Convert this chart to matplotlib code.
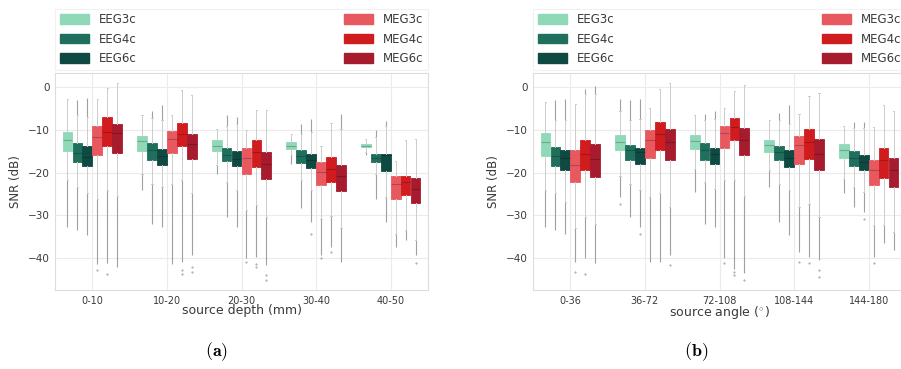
"""SNR box plots by source depth and source angle (EEG vs MEG head models)."""

import numpy as np
import matplotlib
matplotlib.use("Agg")
import matplotlib.pyplot as plt
from matplotlib.patches import Patch

nan = np.nan

HUES = ["EEG3c", "EEG4c", "EEG6c", "MEG3c", "MEG4c", "MEG6c"]
COLORS = ["#8fd8b8", "#1f6f5c", "#0e4a42", "#e8585f", "#d01c1f", "#a61b2e"]

DEPTH_LABELS = ["0-10", "10-20", "20-30", "30-40", "40-50"]
ANGLE_LABELS = ["0-36", "36-72", "72-108", "108-144", "144-180"]

# ---- panel (a): source depth; rows follow HUES, columns follow DEPTH_LABELS
depth_q3 = [
    [-10.5, -11.5, -12.3, -12.9, -13.4],
    [-13.2, -13.2, -14.2, -14.8, -15.6],
    [-13.9, -14.4, -15.0, -15.6, -15.6],
    [-9.0, -10.3, -14.3, -17.5, -20.9],
    [-7.1, -8.3, -12.5, -16.4, -20.7],
    [-8.6, -10.9, -15.2, -18.2, -21.3],
]
depth_q1 = [
    [-15.0, -14.9, -15.0, -14.6, -14.0],
    [-17.5, -17.1, -17.3, -17.8, -17.5],
    [-18.5, -18.2, -18.5, -18.9, -19.6],
    [-16.0, -15.4, -20.3, -23.0, -26.1],
    [-13.9, -13.9, -18.7, -22.1, -25.3],
    [-15.4, -16.8, -21.4, -24.3, -27.1],
]
depth_med = [
    [-12.5, -12.7, -13.9, -13.9, -13.7],
    [-15.4, -14.8, -16.0, -16.2, -16.5],
    [-16.4, -16.2, -16.8, -17.1, -16.0],
    [-11.7, -12.1, -16.5, -19.9, -22.6],
    [-10.4, -10.9, -15.2, -19.1, -22.2],
    [-10.8, -13.4, -17.9, -20.7, -23.8],
]
depth_whishi = [
    [-2.7, -6.6, -9.7, -10.9, -12.1],
    [-6.6, -7.2, -9.0, -10.9, -11.7],
    [-7.0, -7.8, -8.6, -10.5, -9.0],
    [-2.7, -6.5, -10.1, -13.9, -17.3],
    [-0.2, -0.6, -5.3, -8.3, -12.5],
    [1.0, -1.9, -5.3, -9.7, -12.1],
]
depth_whislo = [
    [-21.8, -20.3, -18.3, -16.0, -15.2],
    [-23.5, -22.6, -22.2, -21.8, -20.3],
    [-24.9, -23.5, -24.2, -24.2, -25.7],
    [-26.1, -22.6, -28.7, -30.8, -34.3],
    [-24.0, -21.8, -27.7, -30.2, -33.5],
    [-25.4, -24.9, -30.4, -33.1, -35.7],
]
depth_flier_top = [
    [nan, nan, nan, nan, nan],
    [-3.0, -5.6, -6.6, -8.6, -10.1],
    [-2.5, -4.3, -7.0, -7.4, -7.9],
    [nan, nan, nan, nan, nan],
    [nan, nan, nan, nan, nan],
    [nan, nan, nan, -6.2, nan],
]
depth_flier_bottom = [
    [-32.7, -24.0, -20.3, -17.9, -16.0],
    [-33.5, -32.0, -30.4, -28.4, -26.1],
    [-34.7, -32.7, -32.7, -31.6, -31.6],
    [-41.3, -41.3, -40.1, -39.4, -37.4],
    [-41.2, -40.9, -39.8, -37.4, -35.9],
    [-42.1, -39.4, -41.7, -40.9, -39.4],
]
depth_outliers = [
    [[], [], [], [], []],
    [[], [], [], [], []],
    [[], [], [], [-34.3], []],
    [[-42.9], [], [-40.9], [-40.1], []],
    [[-43.8], [-42.9, -43.8], [-41.3, -42.2], [-38.6], []],
    [[], [-42.1, -43.2], [-44.0, -45.2], [], [-41.2]],
]

# ---- panel (b): source angle; rows follow HUES, columns follow ANGLE_LABELS
angle_q3 = [
    [-10.7, -11.3, -11.3, -12.3, -13.4],
    [-14.0, -13.6, -13.1, -13.8, -15.0],
    [-14.8, -14.2, -14.2, -14.7, -16.0],
    [-14.8, -10.1, -9.1, -11.5, -17.0],
    [-12.5, -8.2, -7.2, -9.7, -14.2],
    [-13.4, -9.7, -9.6, -12.1, -16.5],
]
angle_q1 = [
    [-16.2, -14.8, -14.6, -15.2, -16.6],
    [-18.5, -17.1, -17.0, -17.1, -18.5],
    [-19.5, -18.1, -18.1, -18.6, -19.5],
    [-22.1, -16.5, -14.3, -18.1, -23.0],
    [-19.5, -14.8, -12.3, -16.8, -21.2],
    [-21.0, -17.1, -16.0, -19.3, -23.4],
]
angle_med = [
    [-12.9, -12.9, -12.6, -13.6, -14.8],
    [-16.2, -14.8, -14.8, -15.2, -16.6],
    [-16.5, -15.2, -15.6, -16.5, -17.5],
    [-18.3, -12.3, -10.7, -13.6, -19.5],
    [-15.6, -10.9, -9.4, -12.9, -17.1],
    [-16.8, -12.9, -12.5, -15.6, -19.5],
]
angle_whishi = [
    [-3.5, -5.5, -6.6, -7.8, -9.0],
    [-7.8, -7.8, -7.8, -7.8, -9.5],
    [-7.8, -7.4, -7.5, -8.6, -9.5],
    [-3.9, -4.8, -4.8, -6.2, -9.4],
    [-1.6, -0.4, -0.8, -2.2, -4.3],
    [-1.6, 0.9, 0.4, -1.4, -5.5],
]
angle_whislo = [
    [-24.0, -20.7, -19.1, -19.5, -21.4],
    [-24.9, -22.6, -22.2, -22.6, -23.4],
    [-26.9, -24.2, -23.8, -24.2, -24.6],
    [-33.1, -25.7, -21.8, -28.1, -32.3],
    [-30.4, -24.9, -21.8, -27.3, -32.2],
    [-32.1, -28.1, -25.6, -30.4, -33.9],
]
angle_flier_top = [
    [nan, -2.7, nan, nan, nan],
    [-3.1, -3.0, -6.2, -6.1, -8.2],
    [-2.7, -2.7, -5.5, -4.3, -8.2],
    [nan, nan, nan, nan, nan],
    [-0.4, nan, nan, nan, nan],
    [0.2, nan, nan, nan, nan],
]
angle_flier_bottom = [
    [-32.7, -25.7, -24.6, -23.4, -24.9],
    [-33.5, -30.4, -32.0, -31.6, -28.1],
    [-34.3, -32.7, -32.7, -34.7, -29.2],
    [-40.9, -40.9, -40.1, -38.6, -39.8],
    [-40.1, -40.9, -42.5, -39.8, -36.6],
    [-41.2, -39.4, -43.6, -40.5, -38.2],
]
angle_outliers = [
    [[], [-27.3], [], [], []],
    [[], [], [], [], []],
    [[], [-34.3], [], [], [-30.8]],
    [[-43.3], [], [-41.2], [-40.9], [-41.2]],
    [[-43.8], [], [-43.3, -44.0], [-41.2], []],
    [[], [-41.7], [-45.2], [-42.9, -44.4], []],
]

WHISKER_COLOR = "#cccccc"
FLIER_COLOR = "#a0a0a0"
GRID_COLOR = "#ebebeb"
TEXT_COLOR = "#3a3a3a"


def draw_panel(ax, labels, q1, q3, med, whislo, whishi, flier_top, flier_bottom, outliers, xlabel):
    n_hue = len(HUES)
    slot = 0.8 / n_hue
    for j, (hue, color) in enumerate(zip(HUES, COLORS)):
        offset = -0.4 + slot * (j + 0.5)
        positions = np.arange(len(labels)) + offset
        stats = [
            dict(med=med[j][i], q1=q1[j][i], q3=q3[j][i],
                 whislo=whislo[j][i], whishi=whishi[j][i], fliers=[])
            for i in range(len(labels))
        ]
        ax.bxp(stats, positions=positions, widths=slot * 0.98, patch_artist=True,
               showfliers=False, capwidths=slot * 0.12,
               boxprops=dict(facecolor=color, edgecolor=color, linewidth=0.6),
               medianprops=dict(color="#000000", alpha=0.22, linewidth=0.8),
               whiskerprops=dict(color=WHISKER_COLOR, linewidth=0.7),
               capprops=dict(color=WHISKER_COLOR, linewidth=0.7),
               zorder=3)
        # dense flier runs drawn as thin gray bands
        ax.vlines(positions, flier_bottom[j], whislo[j], color=FLIER_COLOR,
                  linewidth=0.8, zorder=2)
        top = np.array(flier_top[j])
        ok = ~np.isnan(top)
        ax.vlines(positions[ok], np.array(whishi[j])[ok], top[ok], color=FLIER_COLOR,
                  linewidth=0.8, zorder=2)
        for i, pts in enumerate(outliers[j]):
            if pts:
                ax.plot([positions[i]] * len(pts), pts, ".", color=FLIER_COLOR,
                        markersize=1.0, zorder=2)

    ax.set_xlim(-0.5, len(labels) - 0.5)
    ax.set_ylim(-47.5, 3.3)
    ax.set_xticks(np.arange(len(labels)))
    ax.set_xticklabels(labels, fontsize=7)
    ax.set_yticks([0, -10, -20, -30, -40])
    ax.tick_params(axis="y", labelsize=7.5)
    ax.tick_params(length=0, pad=4, colors=TEXT_COLOR)
    ax.grid(True, color=GRID_COLOR, linewidth=0.8)
    ax.set_axisbelow(True)
    for spine in ax.spines.values():
        spine.set_color("#dddddd")
        spine.set_linewidth(0.8)
    ax.set_xlabel(xlabel, fontsize=9, color=TEXT_COLOR, labelpad=-1)
    ax.set_ylabel("SNR (dB)", fontsize=8.5, color=TEXT_COLOR, labelpad=4)

    handles = [Patch(facecolor=c, edgecolor=c, label=h) for h, c in zip(HUES, COLORS)]
    leg = ax.legend(handles=handles, ncol=2, mode="expand", loc="lower left",
                    bbox_to_anchor=(0.0, 1.014, 1.0, 0.3), fontsize=8.5,
                    handlelength=2.5, handleheight=0.85, labelspacing=0.55,
                    borderaxespad=0.0, frameon=True, fancybox=False)
    leg.get_frame().set_edgecolor("#eeeeee")
    leg.get_frame().set_linewidth(0.8)
    for text in leg.get_texts():
        text.set_color(TEXT_COLOR)


plt.rcParams["mathtext.fontset"] = "cm"

fig = plt.figure(figsize=(9.01, 3.69), dpi=100)
ax_a = fig.add_axes([55 / 901, 79 / 369, 373 / 901, 217 / 369])
ax_b = fig.add_axes([533 / 901, 79 / 369, 373 / 901, 217 / 369])

draw_panel(ax_a, DEPTH_LABELS, depth_q1, depth_q3, depth_med, depth_whislo, depth_whishi,
           depth_flier_top, depth_flier_bottom, depth_outliers, "source depth (mm)")
draw_panel(ax_b, ANGLE_LABELS, angle_q1, angle_q3, angle_med, angle_whislo, angle_whishi,
           angle_flier_top, angle_flier_bottom, angle_outliers, r"source angle ($^{\circ}$)")

fig.text(217 / 901, 17 / 369, r"$\mathbf{(a)}$", fontsize=13, ha="center", va="center")
fig.text(696 / 901, 17 / 369, r"$\mathbf{(b)}$", fontsize=13, ha="center", va="center")

fig.savefig("out.png", dpi=100)
